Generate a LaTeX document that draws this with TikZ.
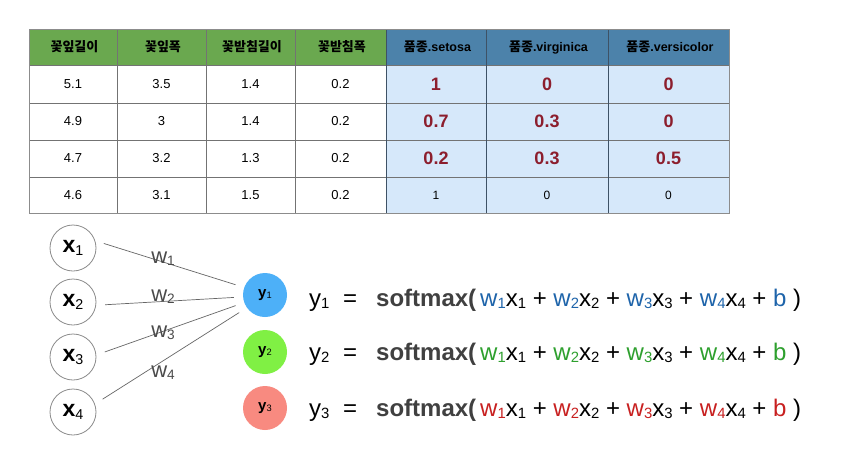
\documentclass[tikz,border=0pt]{standalone}
\usepackage{fontspec}
\setmainfont{Liberation Sans}
\newfontfamily\kr{Noto Sans CJK KR}
\definecolor{hgreen}{HTML}{6AA84F}
\definecolor{hblue}{HTML}{4C82AA}
\definecolor{cellblue}{HTML}{D6E8FA}
\definecolor{numred}{HTML}{8C1E2D}
\definecolor{eqblue}{HTML}{1E64AA}
\definecolor{eqgreen}{HTML}{2EA02E}
\definecolor{eqred}{HTML}{C82020}
\definecolor{cblue}{HTML}{4DB0F8}
\definecolor{cgreen}{HTML}{80F044}
\definecolor{cred}{HTML}{F88A80}
\definecolor{wgray}{HTML}{4A4A4A}
\definecolor{bline}{HTML}{3E5266}
\newcommand\sbs[1]{\raisebox{-0.1em}{\scalebox{0.62}{#1}}}
\newcommand\fs[1]{\fontsize{#1}{#1}\selectfont}
\newcommand\term[2]{\textcolor{#1}{w\sbs{#2}}x\sbs{#2}}
\newcommand\softline[1]{\textbf{\textcolor{black!75}{softmax(}}\,\term{#1}{1} + \term{#1}{2} + \term{#1}{3} + \term{#1}{4} + \textcolor{#1}{b} )}
\tikzset{
  hdr/.style={font=\fs{12.5}\bfseries, text=black},
  dat/.style={font=\fs{13}},
  rnum/.style={font=\fs{18}\bfseries, text=numred},
  xin/.style={circle, draw=black!45, line width=0.8pt, minimum size=46pt, inner sep=0pt, font=\fs{23}},
  yout/.style={circle, minimum size=44pt, inner sep=0pt, font=\fs{15}},
  wlab/.style={font=\fs{22}, text=wgray},
  conn/.style={draw=black!60, line width=0.7pt, shorten <=9pt, shorten >=9pt},
  eqt/.style={font=\fs{24}, anchor=base west, inner sep=0pt},
}
\begin{document}
\begin{tikzpicture}[x=1pt,y=-1pt]
\useasboundingbox (0,0) rectangle (846,458);
\fill[white] (0,0) rectangle (846,458);
% table fills
\fill[hgreen] (29,29) rectangle (386,65);
\fill[hblue] (386,29) rectangle (729,65);
\fill[cellblue] (386,65) rectangle (729,213);
% grid
\foreach \yy in {65,103,140,177} \draw[black!55, line width=0.6pt] (29,\yy) -- (729,\yy);
\foreach \xx in {117,206,295} \draw[black!55, line width=0.6pt] (\xx,29) -- (\xx,213);
\foreach \xx in {486,608} \draw[bline, line width=0.6pt] (\xx,29) -- (\xx,213);
\draw[bline, line width=0.8pt] (386,29) -- (386,213);
\draw[black!45, line width=0.6pt] (29,29) rectangle (729,213);
% headers
\node[hdr] (h1) at (73,47) {\kr\bfseries\fs{13} 꽃잎길이};
\node[hdr] (h2) at (161.5,47) {\kr\bfseries\fs{13} 꽃잎폭};
\node[hdr] (h3) at (250.5,47) {\kr\bfseries\fs{13} 꽃받침길이};
\node[hdr] (h4) at (340.5,47) {\kr\bfseries\fs{13} 꽃받침폭};
\node[hdr] (h5) at (436,47) {{\kr\bfseries\fs{13} 품종}.setosa};
\node[hdr] (h6) at (547,47) {{\kr\bfseries\fs{13} 품종}.virginica};
\node[hdr] (h7) at (668.5,47) {{\kr\bfseries\fs{13} 품종}.versicolor};
% data rows
\foreach \yy/\r/\a/\b/\c/\d in {84/1/5.1/3.5/1.4/0.2, 121.5/2/4.9/3/1.4/0.2, 158.5/3/4.7/3.2/1.3/0.2, 195/4/4.6/3.1/1.5/0.2}{
  \node[dat] (c\r a) at (73,\yy) {\a};
  \node[dat] (c\r b) at (161.5,\yy) {\b};
  \node[dat] (c\r c) at (250.5,\yy) {\c};
  \node[dat] (c\r d) at (340.5,\yy) {\d};
}
\foreach \yy/\r/\a/\b/\c in {84/1/1/0/0, 121.5/2/0.7/0.3/0, 158.5/3/0.2/0.3/0.5}{
  \node[rnum] (c\r e) at (436,\yy) {\a};
  \node[rnum] (c\r f) at (547,\yy) {\b};
  \node[rnum] (c\r g) at (668.5,\yy) {\c};
}
\node[font=\fs{12}] (c4e) at (436,195) {1};
\node[font=\fs{12}] (c4f) at (547,195) {0};
\node[font=\fs{12}] (c4g) at (668.5,195) {0};
% network
\node[xin] (x1) at (73,248) {\textbf{x}\sbs{1}};
\node[xin] (x2) at (73,302) {\textbf{x}\sbs{2}};
\node[xin] (x3) at (73,357) {\textbf{x}\sbs{3}};
\node[xin] (x4) at (73,412) {\textbf{x}\sbs{4}};
\node[yout, fill=cblue] (y1) at (265,295) {\textbf{y}\sbs{1}};
\node[yout, fill=cgreen] (y2) at (265,352) {\textbf{y}\sbs{2}};
\node[yout, fill=cred] (y3) at (265,408) {\textbf{y}\sbs{3}};
\draw[conn] (x1.18) -- (y1.160);
\draw[conn] (x2.-8) -- (y1.185);
\draw[conn] (x3.5) -- (y1.200);
\draw[conn] (x4.20) -- (y1.215);
\node[wlab] (w1) at (163,259) {w\sbs{1}};
\node[wlab] (w2) at (163,297) {w\sbs{2}};
\node[wlab] (w3) at (163,333) {w\sbs{3}};
\node[wlab] (w4) at (163,373) {w\sbs{4}};
% equations
\foreach \r/\yy/\cc in {1/306/eqblue, 2/360/eqgreen, 3/416/eqred}{
  \node[eqt] (ly\r) at (309,\yy) {y\sbs{\r}};
  \node[eqt] (eq\r) at (343,\yy) {=};
  \node[eqt] (sm\r) at (376,\yy) {\softline{\cc}};
}
\end{tikzpicture}
\end{document}
